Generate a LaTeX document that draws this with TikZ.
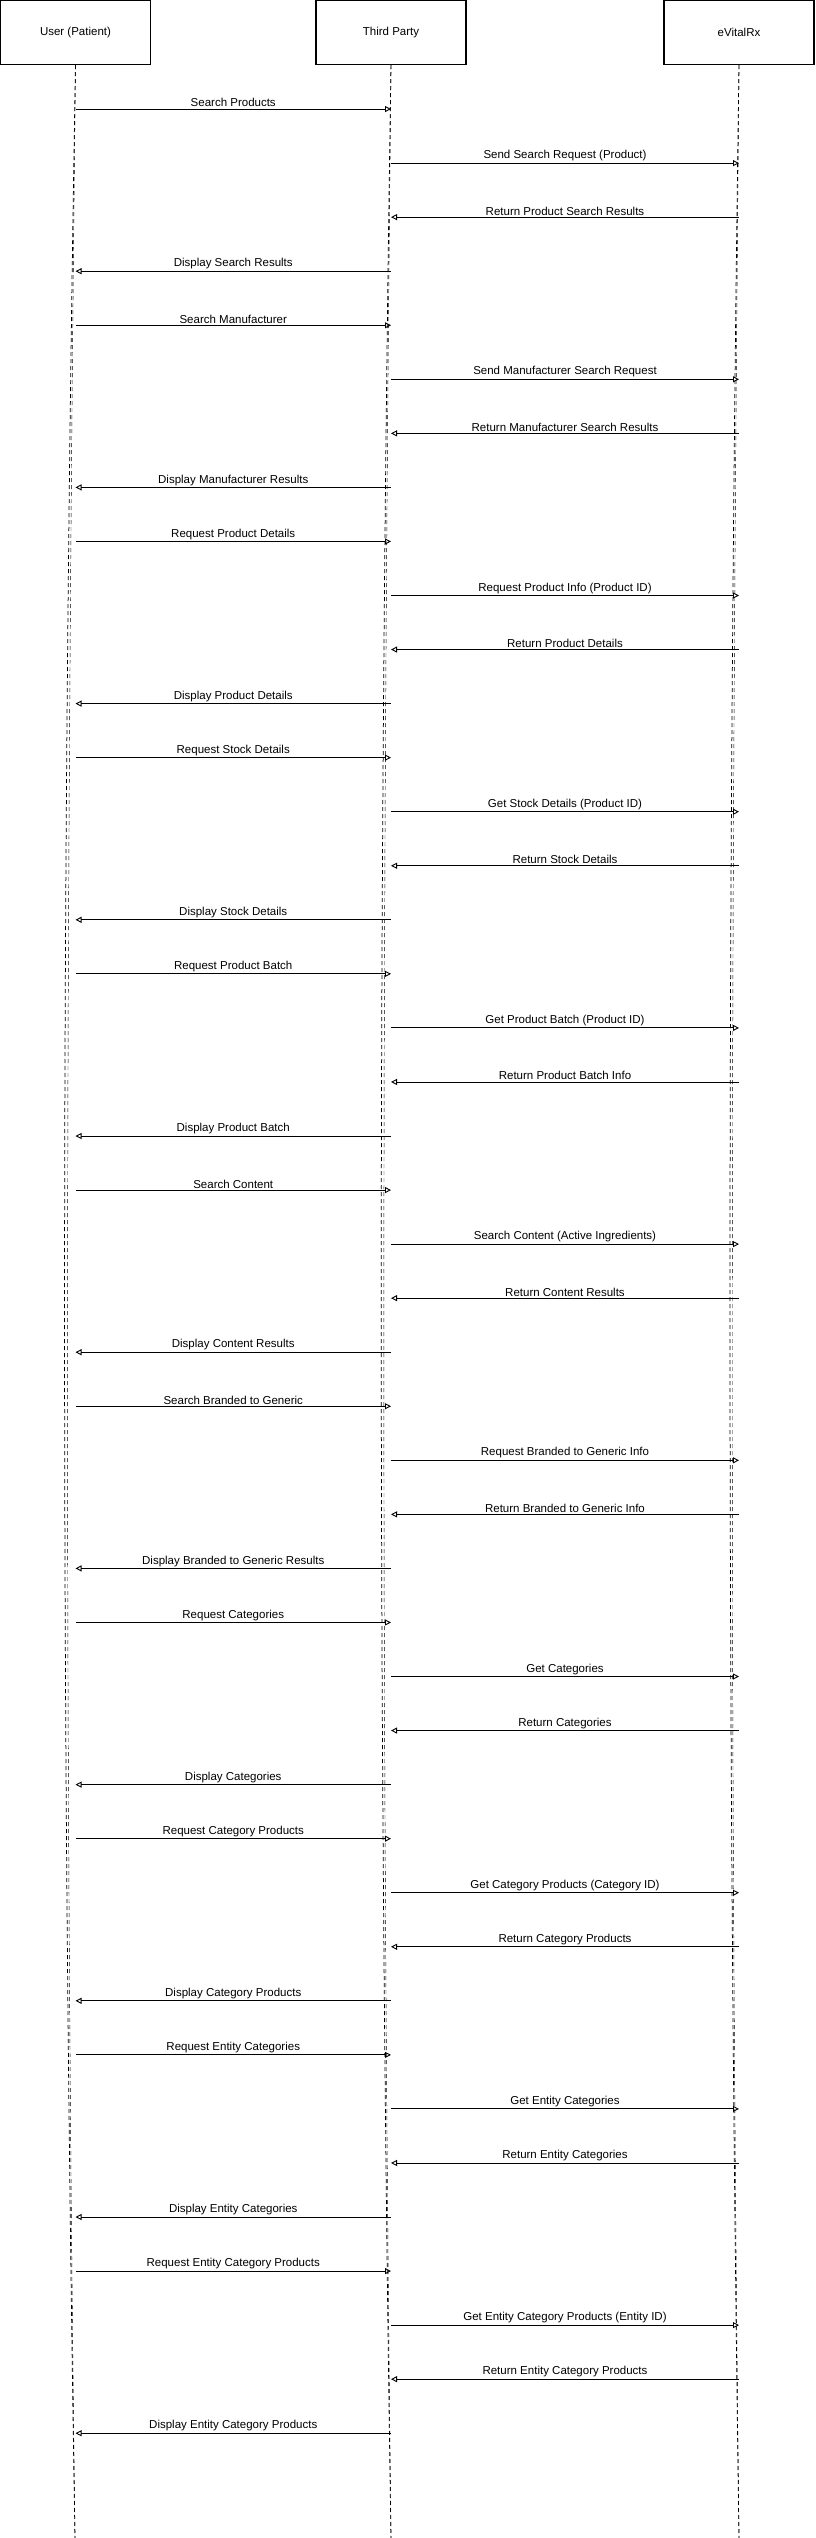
\documentclass[tikz,border=0pt]{standalone}
\usepackage{fontspec}
\setmainfont{Liberation Sans}
\usetikzlibrary{arrows.meta}
\begin{document}
\begin{tikzpicture}[x=1pt,y=-1pt,
  actor/.style={draw, line width=1.1pt, minimum width=150pt, minimum height=64pt, inner sep=0pt, font=\fontsize{11.5}{13}\selectfont},
  lifeline/.style={dash pattern=on 4pt off 3pt, line width=0.75pt},
  lifeline2/.style={dash pattern=on 4pt off 3pt, line width=0.45pt},
  msg/.style={line width=0.9pt, -{Triangle[open,length=6pt,width=6pt,line width=0.9pt]}},
  lbl/.style={font=\fontsize{11.5}{13}\selectfont, inner sep=1.5pt, anchor=south}]
\useasboundingbox (0,0) rectangle (815,2538);
\node[actor] (U) at (75.5,32.5) {User (Patient)};
\node[actor] (T) at (391,32.5) {Third Party};
\node[actor] (E) at (739,32.5) {eVitalRx};
\coordinate (Ub) at (75,2538);
\coordinate (Tb) at (391,2538);
\coordinate (Eb) at (739,2538);
% lifelines (sketchy double strokes)
\draw[lifeline] (U.south) .. controls (61,890) and (61,1714) .. (Ub);
\draw[lifeline2] (U.south) .. controls (66,900) and (64,1700) .. (Ub);
\draw[lifeline] (T.south) .. controls (378,890) and (378,1714) .. (Tb);
\draw[lifeline2] (T.south) .. controls (382,900) and (381,1700) .. (Tb);
\draw[lifeline] (E.south) .. controls (727,890) and (727,1714) .. (Eb);
\draw[lifeline2] (E.south) .. controls (731,900) and (729,1700) .. (Eb);
% messages
\foreach \i/\a/\b/\t in {
 1/U/T/Search Products,
 2/T/E/Send Search Request (Product),
 3/E/T/Return Product Search Results,
 4/T/U/Display Search Results,
 5/U/T/Search Manufacturer,
 6/T/E/Send Manufacturer Search Request,
 7/E/T/Return Manufacturer Search Results,
 8/T/U/Display Manufacturer Results,
 9/U/T/Request Product Details,
 10/T/E/Request Product Info (Product ID),
 11/E/T/Return Product Details,
 12/T/U/Display Product Details,
 13/U/T/Request Stock Details,
 14/T/E/Get Stock Details (Product ID),
 15/E/T/Return Stock Details,
 16/T/U/Display Stock Details,
 17/U/T/Request Product Batch,
 18/T/E/Get Product Batch (Product ID),
 19/E/T/Return Product Batch Info,
 20/T/U/Display Product Batch,
 21/U/T/Search Content,
 22/T/E/Search Content (Active Ingredients),
 23/E/T/Return Content Results,
 24/T/U/Display Content Results,
 25/U/T/Search Branded to Generic,
 26/T/E/Request Branded to Generic Info,
 27/E/T/Return Branded to Generic Info,
 28/T/U/Display Branded to Generic Results,
 29/U/T/Request Categories,
 30/T/E/Get Categories,
 31/E/T/Return Categories,
 32/T/U/Display Categories,
 33/U/T/Request Category Products,
 34/T/E/Get Category Products (Category ID),
 35/E/T/Return Category Products,
 36/T/U/Display Category Products,
 37/U/T/Request Entity Categories,
 38/T/E/Get Entity Categories,
 39/E/T/Return Entity Categories,
 40/T/U/Display Entity Categories,
 41/U/T/Request Entity Category Products,
 42/T/E/Get Entity Category Products (Entity ID),
 43/E/T/Return Entity Category Products,
 44/T/U/Display Entity Category Products}
{
  \pgfmathsetmacro\dy{109+(\i-1)*54.05-65}
  \path (\a.south) ++(0,\dy) coordinate (m\i s);
  \path (\b.south) ++(0,\dy) coordinate (m\i e);
  \draw[msg] (m\i s) -- (m\i e) node[lbl, midway] {\t};
}
\end{tikzpicture}
\end{document}
